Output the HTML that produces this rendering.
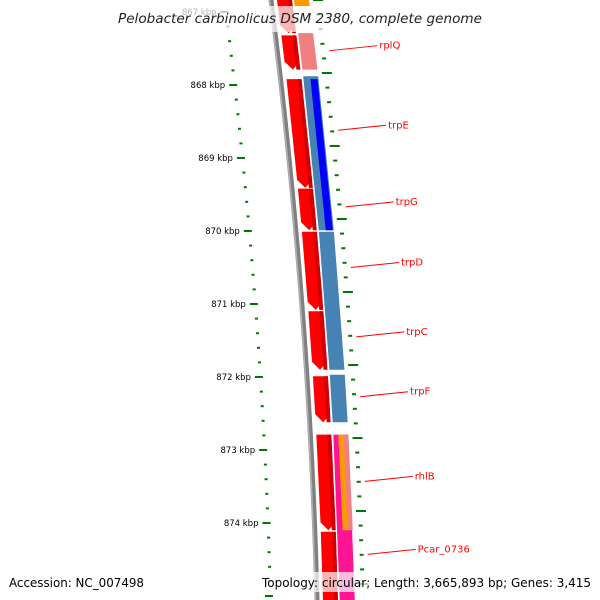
<!DOCTYPE html>
<html><head><meta charset="utf-8"><style>
body{margin:0;background:#fff}
svg{display:block;font-family:"DejaVu Sans","Liberation Sans",sans-serif}
</style></head><body>
<svg id="c" width="600" height="600" xmlns="http://www.w3.org/2000/svg"></svg>
<script>
const tickKbp=[867,868,869,870,871,872,873,874];
const redGenes=[[866.6,867.29],[867.32,867.79],[867.92,869.41],[869.42,869.99],[870.01,871.08],[871.10,871.90],[871.99,872.62],[872.79,874.10],[874.12,875.3]];
const blueGenes=[[867.88,869.99],[870.01,871.90],[871.97,872.62]];
const geneLabels=['rplQ','trpE','trpG','trpD','trpC','trpF','rhlB','Pcar_0736'];
const labelKbp=[867.53,868.62,869.67,870.50,871.45,872.27,873.43,874.43];
const NS='http://www.w3.org/2000/svg';
const svg=document.getElementById('c');
const Y=k=>85+(k-868)*73;
const C=y=>271+0.1268*y-8.35e-5*y*y;
function mk(t,a,p){const e=document.createElementNS(NS,t);for(const k in a)e.setAttribute(k,a[k]);(p||svg).appendChild(e);return e;}
function band(k0,k1,o0,o1,fill,arrow){
  const y0=Math.max(Y(k0),-10),y1=Math.min(Y(k1),620);
  let pts;
  if(arrow&&Y(k1)<620){const t=y1-8;const m=(o0+o1)/2;
    pts=[[C(y0)+o0,y0],[C(y0)+o1,y0],[C(t)+o1,t],[C(y1)+m,y1],[C(t)+o0,t]];}
  else pts=[[C(y0)+o0,y0],[C(y0)+o1,y0],[C(y1)+o1,y1],[C(y1)+o0,y1]];
  return mk('polygon',{points:pts.map(p=>p.join(',')).join(' '),fill:fill});
}
let d='';for(let y=-5;y<=605;y+=5)d+=(y<0?'M':'L')+C(y)+','+y;
let bb=mk('path',{d:d,stroke:'#808080','stroke-width':5,fill:'none'});

let bb2=mk('path',{d:d,stroke:'#b0b0b0','stroke-width':1.5,fill:'none',transform:'translate(-1.5,0)'});

for(let k=866.8;k<=875.2;k+=0.2){
  const kk=Math.round(k*5)/5;const major=Math.abs(kk-Math.round(kk))<0.01;
  const yl=Y(kk),yr=Y(kk)-12;
  let t=mk('line',{x1:C(yl)+(major?-52:-48),x2:C(yl)+(major?-44:-45),y1:yl,y2:yl,stroke:'#007700','stroke-width':2});
  
  let r=mk('line',{x1:C(yr)+(major?42:44),x2:C(yr)+(major?52:48),y1:yr,y2:yr,stroke:'#007700','stroke-width':2});
  
}
tickKbp.forEach(k=>{const y=Y(k);
  let t=mk('text',{x:C(y)-56,y:y+3,'text-anchor':'end','font-size':8.5,fill:'#000'});t.textContent=k+' kbp';
  });
redGenes.forEach(g=>{let p=band(g[0],g[1],6,21,'#ff0000',true);
  
  let s=band(g[0],g[1],17,21,'#d00000',false);});
blueGenes.forEach(g=>{let p=band(g[0],g[1],23,38,'#4682b4',false);
  });
let bl=band(867.92,869.99,30,37,'#0000ff',false);
let pk=band(867.29,867.79,23,38,'#f08080',false);
let or=band(866.6,866.92,23,38,'#ff9900',false);
let mg=band(872.79,875.3,23,38,'#ff1493',false);
let mc=band(872.79,874.10,28,38,'#f08080',false);
let mo=band(872.79,874.10,28,33,'#ff9900',false);
geneLabels.forEach((n,i)=>{const y=Y(labelKbp[i]);const x0=C(y)+52;
  let l=mk('line',{x1:x0,y1:y,x2:x0+48,y2:y-5,stroke:'#ff0000','stroke-width':1});
  
  let t=mk('text',{x:x0+50,y:y-2,'font-size':10,fill:'#ff0000'});t.textContent=n;
  });
let tb=mk('rect',{x:110,y:6,width:380,height:26,fill:'#fff','fill-opacity':0.7});
let ti=mk('text',{x:118,y:23,'font-size':13,'font-style':'italic',fill:'#222',textLength:364,lengthAdjust:'spacingAndGlyphs'});ti.textContent='Pelobacter carbinolicus DSM 2380, complete genome';

let fb=mk('rect',{x:0,y:572,width:600,height:20,fill:'#fff','fill-opacity':0.7});
let fa=mk('text',{x:9,y:587,'font-size':12,fill:'#000',textLength:135,lengthAdjust:'spacingAndGlyphs'});fa.textContent='Accession: NC_007498';

let fr=mk('text',{x:262,y:587,'font-size':12,fill:'#000',textLength:329,lengthAdjust:'spacingAndGlyphs'});fr.textContent='Topology: circular; Length: 3,665,893 bp; Genes: 3,415';

</script>
</body></html>
